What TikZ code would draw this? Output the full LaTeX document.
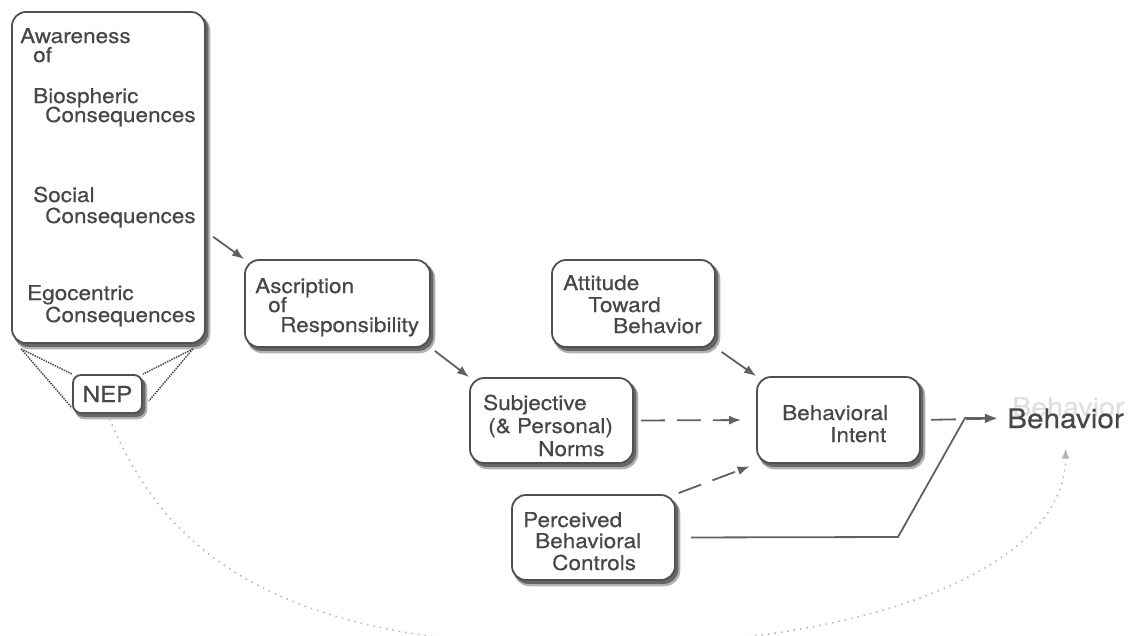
\documentclass[tikz,border=0pt]{standalone}
\usepackage{fontspec}
\setmainfont{TeX Gyre Heros}[FakeStretch=1.1, FakeBold=0.4]
\usetikzlibrary{arrows.meta}

\definecolor{boxgray}{HTML}{505050}
\definecolor{txtgray}{HTML}{474747}
\definecolor{arrgray}{HTML}{616161}
\definecolor{arcgray}{HTML}{B5B5B5}

\tikzset{
  box/.style={draw=boxgray, line width=1.8pt, rounded corners=14pt, fill=white,
    preaction={fill=black!30, draw=black!30, line width=3.5pt, transform canvas={xshift=3.5pt, yshift=-4.5pt}},
    preaction={fill=black!60, draw=black!60, line width=1.8pt, transform canvas={xshift=2.5pt, yshift=-3pt}}},
  lbl/.style={anchor=base west, inner sep=0pt, text=txtgray, font=\fontsize{20.5}{23}\selectfont},
  arr/.style={draw=arrgray, line width=1.8pt, -{Latex[length=12pt,width=9pt]}},
  dasharr/.style={arr, dash pattern=on 24pt off 12pt},
}

\begin{document}
\begin{tikzpicture}[x=1pt, y=-1pt]
\useasboundingbox (0,0) rectangle (1130,635);

\node[box, minimum width=193pt, minimum height=331pt] (aw) at (108.5,177.5) {};
\node[box, rounded corners=8pt, minimum width=69pt, minimum height=38pt,
  text=txtgray, font=\fontsize{22}{24}\selectfont] (nep) at (107.5,394) {NEP};
\node[box, minimum width=185pt, minimum height=87pt] (asc) at (337.5,303.5) {};
\node[box, minimum width=163pt, minimum height=85pt] (subj) at (551.5,420.5) {};
\node[box, minimum width=163pt, minimum height=87pt] (att) at (633.5,303.5) {};
\node[box, minimum width=163pt, minimum height=86pt] (intent) at (838.5,420) {};
\node[box, minimum width=163pt, minimum height=85pt] (pbc) at (593.5,537.5) {};

\node[lbl] (aw1) at (20,43) {Awareness};
\node[lbl] (aw2) at (33,62) {of};
\node[lbl] (aw3) at (33,103) {Biospheric};
\node[lbl] (aw4) at (45,122) {Consequences};
\node[lbl] (aw5) at (33,202) {Social};
\node[lbl] (aw6) at (45,223) {Consequences};
\node[lbl] (aw7) at (27,300) {Egocentric};
\node[lbl] (aw8) at (45,322) {Consequences};

\node[lbl] (asc1) at (255,293) {Ascription};
\node[lbl] (asc2) at (268,312) {of};
\node[lbl] (asc3) at (280,332) {Responsibility};

\node[lbl] (subj1) at (483,410) {Subjective};
\node[lbl] (subj2) at (488,433) {(\& Personal)};
\node[lbl] (subj3) at (538,456) {Norms};

\node[lbl] (att1) at (563,290) {Attitude};
\node[lbl] (att2) at (588,312) {Toward};
\node[lbl] (att3) at (613,333) {Behavior};

\node[lbl] (int1) at (782,420) {Behavioral};
\node[lbl] (int2) at (830,442) {Intent};

\node[lbl] (pbc1) at (523,527) {Perceived};
\node[lbl] (pbc2) at (535,548) {Behavioral};
\node[lbl] (pbc3) at (552,570) {Controls};

\node[lbl, text=black!12, font=\fontsize{26}{28}\selectfont] (ghost) at (1012,416) {Behavior};
\node[lbl, font=\fontsize{27}{30}\selectfont] (beh) at (1007,428) {Behavior};

\coordinate (bend) at (898,537);
\coordinate (joint) at (965,418);
\coordinate (arclow) at (585,646);

\begin{scope}[boxgray, line width=1.5pt, densely dotted]
\draw ([shift={(10pt,-5pt)}]aw.south west) -- (nep.north west);
\draw ([shift={(10pt,-5pt)}]aw.south west) -- ([yshift=6pt]nep.south west);
\draw ([shift={(-13pt,-5pt)}]aw.south east) -- (nep.north east);
\draw ([shift={(-13pt,-5pt)}]aw.south east) -- ([shift={(6pt,13pt)}]nep.south east);
\end{scope}

\draw[arr, shorten <=9pt] (aw.-29) -- (asc.north west);
\draw[arr, shorten <=5pt] (asc.south east) -- (subj.north west);
\draw[arr, shorten <=7pt] (att.south east) -- (intent.north west);
\draw[dasharr, shorten <=7pt, shorten >=15pt] (subj.east) -- (intent.west);
\draw[dasharr, shorten <=3pt, shorten >=7pt] (pbc.north east) -- (intent.south west);
\draw[arr, dash pattern=on 25pt off 10pt, shorten <=10pt, shorten >=10pt] (intent.east) -- (beh.west);
\draw[arr, shorten <=15pt, shorten >=10pt] (pbc.east) -- (bend) -- (joint) -- (beh.west |- joint);

\draw[arcgray, line width=1.5pt, dash pattern=on 1.5pt off 5pt,
  -{Latex[length=10pt,width=8pt]}, shorten <=5pt]
  (nep.south) .. controls (160,540) and (260,646) .. (arclow)
  .. controls (890,646) and (1066,560) .. ([yshift=-20pt]beh.south);

\end{tikzpicture}
\end{document}
